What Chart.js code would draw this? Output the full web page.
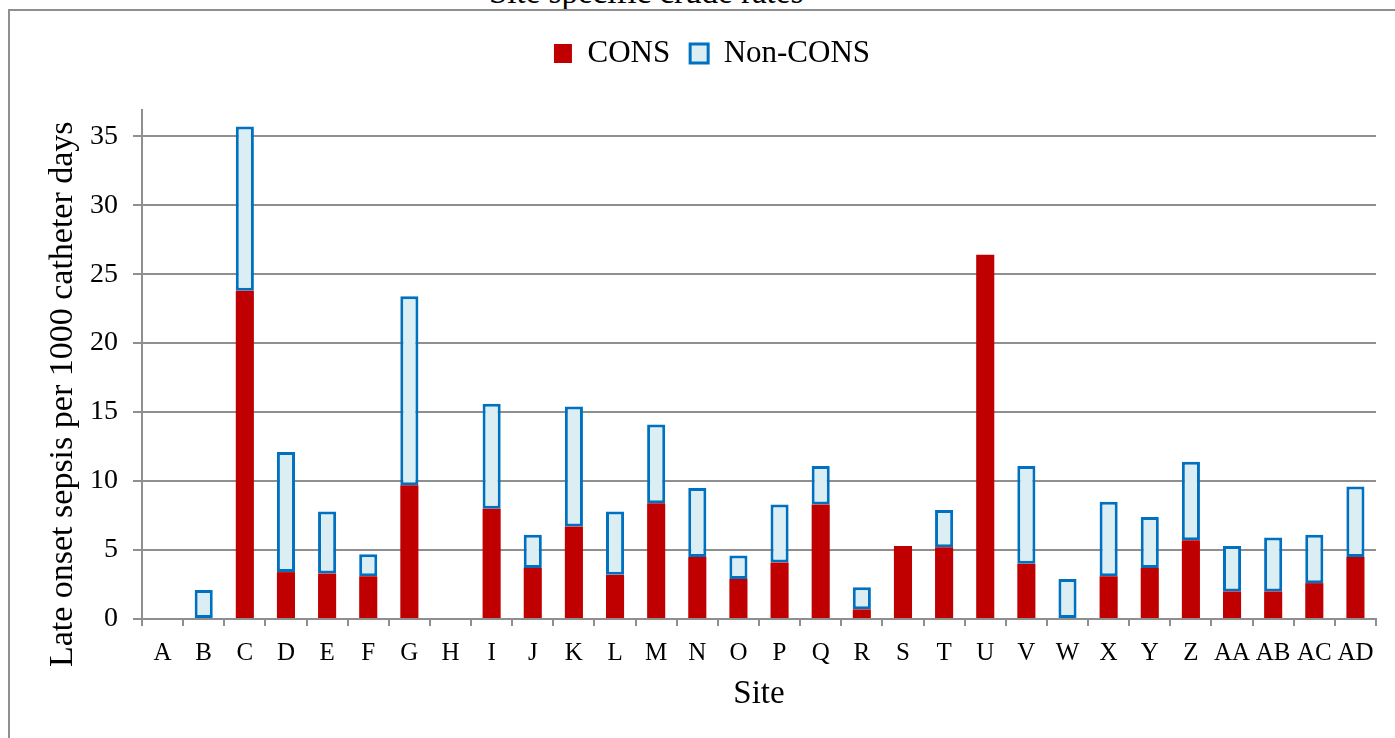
<!DOCTYPE html>
<html>
<head>
<meta charset="utf-8">
<script src="https://cdn.jsdelivr.net/npm/chart.js@4.4.1/dist/chart.umd.min.js"></script>
<style>
    html, body { margin: 0; padding: 0; background: #fff; overflow: hidden; width: 1395px; height: 738px; }
    #heading {                 /* bottom of the document heading above the chart */
        position: absolute; left: 489px; top: -24px;
        font: 33px 'Liberation Serif', serif; line-height: 33px; color: #000; white-space: nowrap;
    }
    #frame {                   /* chart frame, runs off the right and bottom of the page */
        position: absolute; left: 8px; top: 9px; width: 1500px; height: 800px;
        border-left: 2px solid #8f8f8f; border-top: 2px solid #8f8f8f;
    }
    #wrap { position: absolute; left: 10px; top: 10px; width: 1404px; height: 728px; }
</style>
</head>
<body>
<div id="heading">Site specific crude rates</div>
<div id="frame"></div>
<div id="wrap"><canvas id="myChart"></canvas></div>

<script>
// Late onset sepsis per 1000 catheter days, by site

const sites = ['A', 'B', 'C', 'D', 'E', 'F', 'G', 'H', 'I', 'J', 'K', 'L', 'M', 'N', 'O',
               'P', 'Q', 'R', 'S', 'T', 'U', 'V', 'W', 'X', 'Y', 'Z', 'AA', 'AB', 'AC', 'AD'];

const consRates    = [0, 0, 23.8, 3.4, 3.3, 3.1, 9.7, 0, 8.0, 3.7, 6.7, 3.2, 8.4, 4.5, 2.9,
                      4.1, 8.3, 0.7, 5.3, 5.2, 26.4, 4.0, 0, 3.1, 3.7, 5.7, 2.0, 2.0, 2.6, 4.5];
const nonConsRates = [0, 2.1, 11.9, 8.7, 4.5, 1.6, 13.7, 0, 7.6, 2.4, 8.7, 4.6, 5.7, 5.0, 1.7,
                      4.2, 2.8, 1.6, 0, 2.7, 0, 7.1, 2.9, 5.4, 3.7, 5.7, 3.3, 3.9, 3.5, 5.1];

const yTicks = [0, 5, 10, 15, 20, 25, 30, 35];   // gridlines
const yMax = 36.9;         // axis line runs a bit above the last gridline

const serif = 'Liberation Serif';
const gridGray = '#8f8f8f';

// extra room under the legend before the plot starts
const legendGap = {
    id: 'legendGap',
    beforeInit(chart) {
        const fit = chart.legend.fit;
        chart.legend.fit = function () {
            fit.bind(chart.legend)();
            this.height += 31;
        };
    }
};

const ctx = document.getElementById('myChart');

const myChart = new Chart(ctx, {
    type: 'bar',
    data: {
        labels: sites,
        datasets: [{
            label: 'CONS',
            data: consRates,
            backgroundColor: '#C00000',
            borderWidth: 0,
            barPercentage: 0.44,
            categoryPercentage: 1
        },
        {
            label: 'Non-CONS',
            data: nonConsRates,
            backgroundColor: '#DAEEF3',
            borderColor: '#0070C0',
            borderWidth: 3,
            borderSkipped: false,
            barPercentage: 0.44,
            categoryPercentage: 1
        }]
    },
    options: {
        responsive: true,
        maintainAspectRatio: false,
        animation: false,
        layout: {
            padding: { top: 8, left: 38, right: 38, bottom: 0 }
        },
        scales: {
            x: {
                stacked: true,
                afterFit: function (scale) { scale.height = 119; },
                grid: {
                    drawOnChartArea: false,
                    drawTicks: true,
                    tickLength: 7,
                    color: gridGray,
                    lineWidth: 2
                },
                border: { display: true, color: gridGray, width: 2 },
                ticks: {
                    color: '#000',
                    padding: 12,
                    maxRotation: 0,
                    autoSkip: false,
                    font: { family: serif, size: 25 }
                },
                title: {
                    display: true,
                    text: 'Site',
                    color: '#000',
                    padding: { top: 0, bottom: 24 },
                    font: { family: serif, size: 33 }
                }
            },
            y: {
                stacked: true,
                min: 0,
                max: yMax,
                afterFit: function (scale) { scale.width = 94; },
                afterBuildTicks: function (scale) {
                    scale.ticks = yTicks.map(v => ({ value: v }));
                },
                grid: {
                    color: gridGray,
                    lineWidth: 2,
                    tickLength: 9
                },
                border: { display: true, color: gridGray, width: 2 },
                ticks: {
                    color: '#000',
                    padding: 15,
                    font: { family: serif, size: 28 }
                },
                title: {
                    display: true,
                    text: 'Late onset sepsis per 1000 catheter days       ',
                    color: '#000',
                    padding: { top: -5, bottom: 0 },
                    font: { family: serif, size: 34 }
                }
            }
        },
        plugins: {
            legend: {
                position: 'top',
                labels: {
                    color: '#000',
                    boxWidth: 18,
                    boxHeight: 19,
                    padding: 20,
                    font: { family: serif, size: 31 }
                }
            },
            tooltip: { enabled: false }
        }
    },
    plugins: [legendGap]
});
</script>
</body>
</html>
